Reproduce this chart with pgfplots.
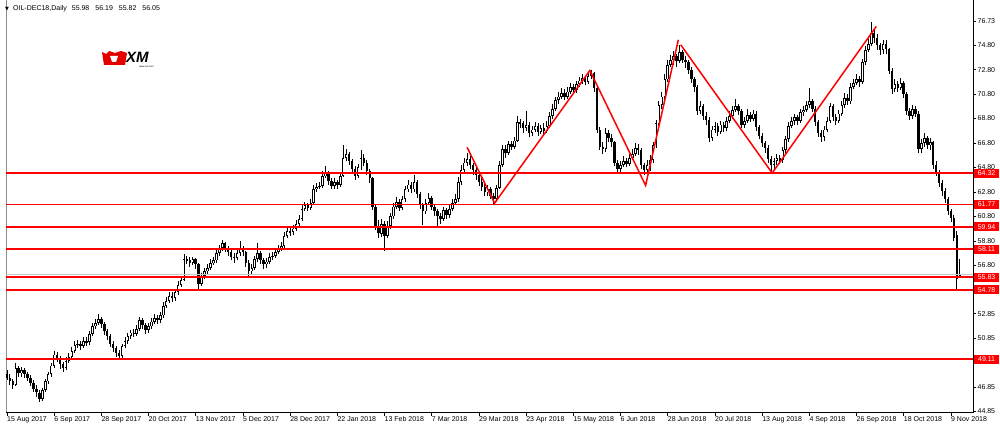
\documentclass[border=0pt]{standalone}
\usepackage{pgfplots}
\pgfplotsset{compat=1.18}
\usepackage{pgfplotstable}
\usepackage{fontspec}
\setmainfont{Liberation Sans}
\newfontfamily\dejavu{DejaVu Sans}

\pgfplotstableread{
i o h l c
0 47.9 48.2 47.4 47.6
1 47.6 47.9 47.0 47.3
2 47.3 47.5 46.7 47.0
3 47.0 48.8 46.9 48.4
4 48.4 48.6 47.7 48.0
5 48.0 48.5 47.7 48.2
6 48.2 48.4 47.6 47.9
7 47.9 48.1 47.3 47.6
8 47.6 47.8 46.9 47.2
9 47.2 47.4 46.4 46.7
10 46.7 47.0 46.0 46.4
11 46.4 46.6 45.6 45.9
12 45.9 46.8 45.7 46.6
13 46.6 47.5 46.4 47.3
14 47.3 48.1 47.1 47.9
15 47.9 48.8 47.7 48.6
16 48.6 49.8 48.4 49.5
17 49.5 49.7 48.9 49.2
18 49.2 49.4 48.3 48.7
19 48.7 48.9 48.1 48.4
20 48.4 49.3 48.2 49.0
21 49.0 49.6 48.8 49.3
22 49.3 50.1 49.1 49.8
23 49.8 50.6 49.6 50.3
24 50.3 50.7 50.0 50.4
25 50.4 50.6 49.9 50.2
26 50.2 50.9 50.0 50.6
27 50.6 50.9 50.2 50.5
28 50.5 51.4 50.3 51.2
29 51.2 52.1 51.0 51.8
30 51.8 52.4 51.6 52.1
31 52.1 52.8 51.9 52.4
32 52.4 52.6 51.7 52.0
33 52.0 52.2 51.1 51.4
34 51.4 51.6 50.7 51.0
35 51.0 51.2 50.1 50.4
36 50.4 50.6 49.7 50.0
37 50.0 50.2 49.3 49.6
38 49.6 49.9 49.1 49.4
39 49.4 50.4 49.2 50.2
40 50.2 50.9 50.0 50.6
41 50.6 51.3 50.4 51.0
42 51.0 51.5 50.8 51.3
43 51.3 51.6 50.9 51.2
44 51.2 51.9 51.0 51.6
45 51.6 52.6 51.4 52.3
46 52.3 52.5 51.6 51.9
47 51.9 52.1 51.2 51.5
48 51.5 52.1 51.3 51.8
49 51.8 52.5 51.6 52.2
50 52.2 52.8 52.0 52.5
51 52.5 52.7 52.0 52.3
52 52.3 53.0 52.1 52.7
53 52.7 53.8 52.5 53.5
54 53.5 54.2 53.3 53.9
55 53.9 54.6 53.7 54.3
56 54.3 54.6 53.8 54.1
57 54.1 54.9 53.9 54.6
58 54.6 55.5 54.4 55.2
59 55.2 55.9 55.0 55.6
60 55.6 57.7 55.5 57.3
61 57.3 57.6 56.9 57.2
62 57.2 57.5 56.7 57.0
63 57.0 57.5 56.8 57.3
64 57.3 57.4 56.5 56.9
65 56.9 57.0 54.85 55.3
66 55.3 56.2 55.1 55.9
67 55.9 56.6 55.7 56.3
68 56.3 56.9 56.1 56.6
69 56.6 57.3 56.4 57.0
70 57.0 57.5 56.8 57.2
71 57.2 58.1 57.0 57.8
72 57.8 58.5 57.6 58.2
73 58.2 58.9 58.0 58.6
74 58.6 58.7 57.9 58.2
75 58.2 58.4 57.6 57.9
76 57.9 58.1 57.2 57.5
77 57.5 57.8 57.0 57.4
78 57.4 58.1 57.2 57.8
79 57.8 58.8 57.6 58.2
80 58.2 58.4 57.6 57.9
81 57.9 58.0 56.7 57.0
82 57.0 57.2 55.8 56.3
83 56.3 56.9 56.0 56.6
84 56.6 57.6 56.4 57.3
85 57.3 58.6 57.1 57.8
86 57.8 58.0 56.9 57.2
87 57.2 57.4 56.5 56.9
88 56.9 57.4 56.6 57.1
89 57.1 57.8 56.9 57.5
90 57.5 57.9 57.2 57.6
91 57.6 58.2 57.4 57.9
92 57.9 58.5 57.7 58.2
93 58.2 58.7 58.0 58.4
94 58.4 59.5 58.2 59.2
95 59.2 59.9 59.0 59.6
96 59.6 59.9 59.2 59.5
97 59.5 60.1 59.3 59.8
98 59.8 60.5 59.6 60.2
99 60.2 60.9 60.0 60.6
100 60.6 61.7 60.4 61.4
101 61.4 62.0 61.2 61.7
102 61.7 61.9 61.2 61.5
103 61.5 62.2 61.3 61.9
104 61.9 63.4 61.8 63.0
105 63.0 63.5 62.8 63.2
106 63.2 63.6 63.0 63.3
107 63.3 64.5 63.1 64.1
108 64.1 64.9 63.9 64.3
109 64.3 64.5 63.4 63.7
110 63.7 63.9 63.0 63.3
111 63.3 63.9 63.0 63.6
112 63.6 63.8 63.0 63.4
113 63.4 64.4 63.2 64.1
114 64.1 66.6 64.0 65.6
115 65.6 66.3 65.3 65.9
116 65.9 66.1 65.0 65.3
117 65.3 65.5 64.4 64.7
118 64.7 64.9 63.8 64.1
119 64.1 65.1 63.9 64.8
120 64.8 66.2 64.6 65.6
121 65.6 65.9 64.9 65.2
122 65.2 65.4 64.2 64.5
123 64.5 64.7 63.5 63.9
124 63.9 64.0 61.3 61.6
125 61.6 61.8 59.7 60.0
126 60.0 60.5 59.0 59.4
127 59.4 60.6 59.1 60.2
128 60.2 60.4 58.0 59.2
129 59.2 60.4 59.0 60.0
130 60.0 61.1 59.8 60.8
131 60.8 61.9 60.6 61.6
132 61.6 62.4 61.4 62.0
133 62.0 62.2 61.2 61.5
134 61.5 62.5 61.3 62.2
135 62.2 63.3 62.0 63.0
136 63.0 63.8 62.8 63.4
137 63.4 63.6 62.7 63.0
138 63.0 64.2 62.8 63.6
139 63.6 63.8 62.3 62.6
140 62.6 62.8 61.4 61.7
141 61.7 61.9 60.1 61.2
142 61.2 62.2 61.0 61.9
143 61.9 62.7 61.7 62.3
144 62.3 62.5 61.3 61.6
145 61.6 61.8 60.8 61.2
146 61.2 61.4 60.0 60.8
147 60.8 61.1 60.2 60.6
148 60.6 61.6 60.4 61.3
149 61.3 61.5 60.6 60.9
150 60.9 61.7 60.7 61.4
151 61.4 62.2 61.2 61.9
152 61.9 62.6 61.7 62.2
153 62.2 64.0 62.0 63.6
154 63.6 65.0 63.4 64.6
155 64.6 65.6 64.3 65.2
156 65.2 66.0 64.9 65.5
157 65.5 65.7 64.7 65.0
158 65.0 65.2 64.2 64.6
159 64.6 64.8 63.8 64.2
160 64.2 64.4 63.3 63.6
161 63.6 63.9 62.9 63.2
162 63.2 63.5 62.5 62.8
163 62.8 63.4 62.5 63.0
164 63.0 63.2 62.2 62.5
165 62.5 62.7 61.85 62.2
166 62.2 63.4 62.0 63.1
167 63.1 65.3 63.0 65.0
168 65.0 66.6 64.8 66.3
169 66.3 66.6 65.6 66.0
170 66.0 67.0 65.8 66.7
171 66.7 67.0 66.2 66.5
172 66.5 67.3 66.3 67.0
173 67.0 69.0 66.9 68.5
174 68.5 68.8 68.0 68.4
175 68.4 68.6 67.6 68.0
176 68.0 69.4 67.8 68.3
177 68.3 68.5 67.3 67.6
178 67.6 68.2 67.4 67.9
179 67.9 68.5 67.7 68.2
180 68.2 68.4 67.4 67.7
181 67.7 68.3 67.5 68.0
182 68.0 68.4 67.5 67.8
183 67.8 68.6 67.6 68.2
184 68.2 69.3 68.0 69.0
185 69.0 70.0 68.8 69.6
186 69.6 70.6 69.4 70.3
187 70.3 71.0 70.0 70.6
188 70.6 71.3 70.4 70.9
189 70.9 71.2 70.3 70.6
190 70.6 71.4 70.4 71.0
191 71.0 71.7 70.8 71.4
192 71.4 71.6 70.8 71.1
193 71.1 71.9 70.9 71.6
194 71.6 72.2 71.4 71.9
195 71.9 72.4 71.6 72.1
196 72.1 72.3 71.5 71.8
197 71.8 72.6 71.6 72.3
198 72.3 72.8 72.0 72.5
199 72.5 72.6 71.0 71.3
200 71.3 71.4 67.6 67.9
201 67.9 68.1 66.2 66.5
202 66.5 66.9 65.9 66.3
203 66.3 68.0 66.1 67.6
204 67.6 67.9 66.9 67.2
205 67.2 67.5 66.5 66.9
206 66.9 67.0 64.9 65.2
207 65.2 65.4 64.3 64.7
208 64.7 65.3 64.4 65.0
209 65.0 65.7 64.8 65.3
210 65.3 65.6 64.8 65.1
211 65.1 65.9 64.9 65.6
212 65.6 66.3 65.4 65.9
213 65.9 66.8 65.7 66.4
214 66.4 66.7 65.8 66.2
215 66.2 66.4 64.7 65.0
216 65.0 65.2 64.2 64.6
217 64.6 65.4 64.3 65.0
218 65.0 65.8 64.5 65.4
219 65.4 66.9 65.2 66.6
220 66.6 68.7 66.4 68.4
221 68.4 70.2 68.2 69.9
222 69.9 71.0 69.6 70.6
223 70.6 72.4 70.4 72.0
224 72.0 73.6 71.8 73.2
225 73.2 74.0 73.0 73.6
226 73.6 74.3 73.2 73.9
227 73.9 74.1 73.0 73.5
228 73.5 74.8 73.3 74.2
229 74.2 74.4 73.3 73.6
230 73.6 73.9 72.9 73.4
231 73.4 73.6 72.4 72.8
232 72.8 73.0 71.7 72.0
233 72.0 72.2 71.0 71.4
234 71.4 71.5 69.1 69.4
235 69.4 70.2 69.2 69.8
236 69.8 70.0 68.7 69.0
237 69.0 69.3 68.3 68.7
238 68.7 68.9 66.9 67.2
239 67.2 68.2 67.0 67.9
240 67.9 68.5 67.6 68.2
241 68.2 68.4 67.4 67.7
242 67.7 68.6 67.5 68.3
243 68.3 68.5 67.7 68.0
244 68.0 68.9 67.8 68.6
245 68.6 69.4 68.4 69.0
246 69.0 69.8 68.8 69.5
247 69.5 70.4 69.3 69.8
248 69.8 70.0 69.1 69.4
249 69.4 69.6 68.0 68.3
250 68.3 68.9 68.0 68.6
251 68.6 69.6 68.4 69.1
252 69.1 69.3 68.5 68.8
253 68.8 69.5 68.6 69.2
254 69.2 69.4 67.8 68.1
255 68.1 68.3 67.1 67.4
256 67.4 67.6 66.5 66.8
257 66.8 67.0 66.0 66.4
258 66.4 66.6 65.2 65.5
259 65.5 65.7 64.4 65.0
260 65.0 65.6 64.7 65.3
261 65.3 65.9 65.0 65.6
262 65.6 65.8 65.1 65.4
263 65.4 66.5 65.2 66.2
264 66.2 67.4 66.0 67.1
265 67.1 68.5 66.9 68.2
266 68.2 68.9 68.0 68.6
267 68.6 69.2 68.3 68.9
268 68.9 69.1 68.3 68.6
269 68.6 69.6 68.4 69.3
270 69.3 69.8 69.0 69.5
271 69.5 70.2 69.3 69.9
272 69.9 71.3 69.7 70.2
273 70.2 70.4 69.3 69.6
274 69.6 69.8 68.2 68.5
275 68.5 68.7 67.3 67.6
276 67.6 67.9 66.9 67.3
277 67.3 68.2 67.0 67.9
278 67.9 68.9 67.7 68.6
279 68.6 70.1 68.4 69.8
280 69.8 70.0 68.6 68.9
281 68.9 69.2 68.3 68.6
282 68.6 69.5 68.4 69.2
283 69.2 70.2 69.0 69.9
284 69.9 70.9 69.7 70.5
285 70.5 70.8 69.9 70.2
286 70.2 71.7 70.0 71.4
287 71.4 72.0 71.2 71.7
288 71.7 72.4 71.5 72.0
289 72.0 72.3 71.4 71.8
290 71.8 73.7 71.6 73.4
291 73.4 74.7 73.2 74.4
292 74.4 75.3 74.2 74.9
293 74.9 76.7 74.7 75.8
294 75.8 76.1 75.0 75.4
295 75.4 75.7 74.4 74.8
296 74.8 75.0 74.0 74.4
297 74.4 75.2 74.1 74.9
298 74.9 75.2 74.1 74.5
299 74.5 74.6 72.4 72.7
300 72.7 72.9 70.8 71.2
301 71.2 72.0 71.0 71.6
302 71.6 71.9 71.0 71.3
303 71.3 72.1 71.1 71.7
304 71.7 71.9 70.5 70.8
305 70.8 71.0 69.1 69.4
306 69.4 69.7 68.7 69.0
307 69.0 69.9 68.8 69.6
308 69.6 69.8 68.9 69.2
309 69.2 69.4 66.0 66.3
310 66.3 67.1 66.0 66.8
311 66.8 67.6 66.5 67.2
312 67.2 67.4 66.3 66.6
313 66.6 67.2 66.2 66.9
314 66.9 67.0 64.7 65.0
315 65.0 65.3 64.1 64.4
316 64.4 64.6 63.2 63.5
317 63.5 63.8 62.5 62.9
318 62.9 63.1 61.9 62.2
319 62.2 62.4 60.9 61.2
320 61.2 61.4 60.3 60.7
321 60.7 60.9 58.8 59.0
322 59.3 59.6 54.78 55.7
323 55.98 57.3 55.82 56.05
}\ohlc

\begin{document}
\begin{tikzpicture}[x=1pt,y=1pt]
\path[use as bounding box] (0,0) rectangle (1000,432);
\begin{axis}[
  name=ax, at={(2,16)}, anchor=south west, scale only axis,
  width=967pt, height=415pt,
  xmin=-0.35, xmax=327.45, ymin=44.77, ymax=78.70,
  axis line style={black!45, line width=0.6pt},
  xtick={0,16,...,320},
  xticklabels={15 Aug 2017,6 Sep 2017,28 Sep 2017,20 Oct 2017,13 Nov 2017,5 Dec 2017,28 Dec 2017,22 Jan 2018,13 Feb 2018,7 Mar 2018,29 Mar 2018,23 Apr 2018,15 May 2018,6 Jun 2018,28 Jun 2018,20 Jul 2018,13 Aug 2018,4 Sep 2018,26 Sep 2018,18 Oct 2018,9 Nov 2018},
  ytick={44.85,46.85,48.85,50.85,52.85,54.80,56.80,58.80,60.80,62.80,64.80,66.80,68.80,70.80,72.80,74.80,76.73},
  yticklabels={44.85,46.85,{},50.85,52.85,{},56.80,58.80,60.80,62.80,64.80,66.80,68.80,70.80,72.80,74.80,76.73},
  xtick pos=left, ytick pos=right, yticklabel pos=right,
  tick align=outside, major tick length=3.5pt,
  tick style={black, line width=0.6pt},
  tick label style={font=\fontsize{7}{8}\selectfont, text=black},
  xticklabel style={anchor=north west, inner sep=0.5pt, xshift=-0.5pt},
  yticklabel style={anchor=west, inner sep=1pt},
  clip=true,
]
% wicks
\addplot[draw=none, mark=none, forget plot,
  error bars/.cd, y dir=both, y explicit, error mark=none,
  error bar style={draw=black, solid, line width=0.85pt}]
  table[x=i, y=c, y error plus expr=\thisrow{h}-\thisrow{c}, y error minus expr=\thisrow{c}-\thisrow{l}] {\ohlc};
% bodies
\addplot[draw=none, mark=none, forget plot,
  error bars/.cd, y dir=both, y explicit, error mark=none,
  error bar style={draw=black, solid, line width=2.5pt}]
  table[x=i, y expr=(\thisrow{o}+\thisrow{c})/2, y error expr={max(abs(\thisrow{c}-\thisrow{o})/2,0.04)}] {\ohlc};
% hollow interior of rising candles
\addplot[draw=none, mark=none, forget plot,
  error bars/.cd, y dir=both, y explicit, error mark=none,
  error bar style={draw=white, solid, line width=0.9pt}]
  table[x=i, y expr=(\thisrow{o}+\thisrow{c})/2, y error expr={max((\thisrow{c}-\thisrow{o})/2-0.07,0)}] {\ohlc};
% bid line
\addplot[black!22, line width=0.9pt] coordinates {(-0.35,56.05) (327.45,56.05)};
% horizontal levels
\addplot[red, line width=1.9pt] coordinates {(-0.35,64.32) (327.45,64.32)};
\addplot[red, line width=1.9pt] coordinates {(-0.35,61.77) (327.45,61.77)};
\addplot[red, line width=1.9pt] coordinates {(-0.35,59.94) (327.45,59.94)};
\addplot[red, line width=1.9pt] coordinates {(-0.35,58.11) (327.45,58.11)};
\addplot[red, line width=1.9pt] coordinates {(-0.35,55.83) (327.45,55.83)};
\addplot[red, line width=1.9pt] coordinates {(-0.35,54.78) (327.45,54.78)};
\addplot[red, line width=1.9pt] coordinates {(-0.35,49.11) (327.45,49.11)};
% zigzag trend lines
\addplot[red, line width=1.5pt] coordinates {(156.0,66.44) (165.3,61.88) (197.6,72.73) (216.5,63.33) (227.6,75.24)};
\addplot[red, line width=1.5pt] coordinates {(228.4,74.83) (259.4,64.34) (294.7,76.33)};
\coordinate (r1) at (axis cs:327.45,64.32);
\coordinate (r2) at (axis cs:327.45,61.77);
\coordinate (r3) at (axis cs:327.45,59.94);
\coordinate (r4) at (axis cs:327.45,58.11);
\coordinate (r5) at (axis cs:327.45,55.83);
\coordinate (r6) at (axis cs:327.45,54.78);
\coordinate (r7) at (axis cs:327.45,49.11);
\end{axis}
\draw[black, line width=0.8pt] (ax.south west) -- (ax.south east) -- (ax.north east);
\foreach \n/\v in {r1/64.32,r2/61.77,r3/59.94,r4/58.11,r5/55.83,r6/54.78,r7/49.11}
  \node[fill=red, text=white, anchor=west, inner sep=0pt, minimum height=9pt, minimum width=25pt,
        font=\fontsize{7}{8}\selectfont] at ([xshift=1pt]\n) {\v};
% header
\node[font=\dejavu\fontsize{5}{5}\selectfont, inner sep=0pt] at (7,423) {▼};
\node[anchor=west, inner sep=0pt, font=\fontsize{7}{8}\selectfont] at (13,423)
  {OIL-DEC18,Daily\hspace{5pt}55.98\hspace{6pt}56.19\hspace{6pt}55.82\hspace{6pt}56.05};
% logo
\fill[red!90!black] (102,380) -- (106,378) -- (109,381) -- (115,379) -- (121,381) -- (127,379) -- (125,367) -- (104,367) -- cycle;
\fill[white] (110,376) -- (118,376) -- (116,370) -- (112,370) -- cycle;
\node[anchor=west, inner sep=0pt, font=\bfseries\itshape\fontsize{15}{15}\selectfont] at (126,375) {XM};
\node[anchor=north east, inner sep=0pt, font=\fontsize{2.5}{3}\selectfont] at (154,366) {www.xm.com};
\end{tikzpicture}
\end{document}
